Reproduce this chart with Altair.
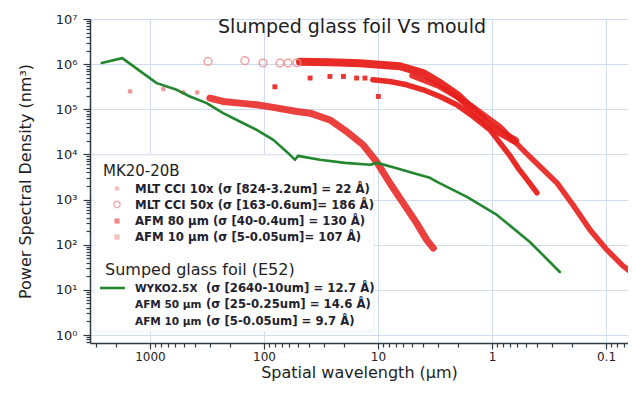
import altair as alt
import pandas as pd

# ---------------- data ----------------
# Sumped glass foil (E52) : WYKO2.5X (green curve)
foil_wl = [2654, 1750, 873, 583, 446, 318, 228, 163, 116, 82.8, 59.2, 53.4, 50.3,
           32.3, 19.5, 11.7, 10.2, 7.1, 4.93, 3.5, 3.03, 2.48, 1.66, 0.904, 0.465, 0.254]
foil_psd = [1.06e6, 1.36e6, 3.8e5, 2.7e5, 1.92e5, 1.37e5, 8.2e4, 5.36e4, 3.5e4, 2.1e4,
            9.8e3, 7.6e3, 9.3e3, 7.6e3, 6.5e3, 5.9e3, 6.5e3, 5.05e3, 3.9e3, 3.03e3,
            2.47e3, 1.91e3, 1.15e3, 458, 115, 24.9]

# MK20-20B : MLT CCI 10x
mlt10_pts_wl = [1496, 764, 511, 385]
mlt10_pts_psd = [2.48e5, 2.8e5, 2.36e5, 2.36e5]
mlt10_wl = [298, 229, 163, 116, 83, 51.6, 39.4, 26.4, 18.8, 13.5, 10.3, 7.85, 6.0,
            4.58, 3.74, 3.27]
mlt10_psd = [1.77e5, 1.49e5, 1.37e5, 1.26e5, 1.1e5, 8.9e4, 8.2e4, 5.8e4, 3.2e4,
             1.63e4, 6.9e3, 2.3e3, 832, 300, 128, 84]

# MK20-20B : MLT CCI 50x
mlt50_pts_wl = [310, 147, 102, 72.4, 61.5, 51.4]
mlt50_pts_psd = [1.15e6, 1.19e6, 1.06e6, 1.06e6, 1.06e6, 1.07e6]
mlt50_wl = [48.3, 26.4, 14.4, 6.41, 4.03, 2.86, 2.03, 1.47, 1.04, 0.628]
mlt50_psd = [1.13e6, 1.10e6, 1.05e6, 8.98e5, 6.35e5, 3.81e5, 2.1e5, 9.8e4, 4.16e4, 2.0e4]

# MK20-20B : AFM 80 um
afm80_pts_wl = [80.2, 39.4, 26.4, 20.1, 15.4, 13.0, 9.93]
afm80_pts_psd = [3.15e5, 4.92e5, 5.34e5, 5.34e5, 4.92e5, 4.92e5, 1.92e5]
afm80_wl = [11.1, 7.85, 5.60, 4.01, 2.86, 2.04, 1.46, 1.04, 0.851, 0.695, 0.592,
            0.483, 0.403]
afm80_psd = [4.51e5, 4.13e5, 3.49e5, 2.7e5, 1.92e5, 1.26e5, 6.9e4, 3.51e4, 1.81e4,
             9.3e3, 5.05e3, 2.6e3, 1.41e3]

# MK20-20B : AFM 10 um
afm10_wl = [5.04, 2.86, 1.56, 0.851, 0.628, 0.465, 0.269, 0.195, 0.138, 0.098,
            0.071, 0.0503]
afm10_psd = [5.53e5, 3.15e5, 1.26e5, 4.09e4, 1.9e4, 8.85e3, 2.34e3, 762, 213,
             76.7, 33.9, 17.5]

title_text = "Slumped glass foil Vs mould"
x_title = "Spatial wavelength (\u00b5m)"
y_title = "Power Spectral Density (nm\u00b3)"
group1 = "MK20-20B"
group1_labels = ["MLT CCI 10x (\u03c3 [824-3.2um] = 22 \u00c5)",
                 "MLT CCI 50x (\u03c3 [163-0.6um]= 186 \u00c5)",
                 "AFM 80 \u00b5m (\u03c3 [40-0.4um] = 130 \u00c5)",
                 "AFM 10 \u00b5m (\u03c3 [5-0.05um]= 107 \u00c5)"]
group2 = "Sumped glass foil (E52)"
group2_names = ["WYKO2.5X", "AFM 50 \u00b5m", "AFM 10 \u00b5m"]
group2_sigma = ["(\u03c3 [2640-10um] = 12.7 \u00c5)",
                "(\u03c3 [25-0.25um] = 14.6 \u00c5)",
                "(\u03c3 [5-0.05um] = 9.7 \u00c5)"]

x_domain = [0.0641, 3358]
y_domain = [0.665, 1e7]
x_ticks = [k * 10.0 ** n for n in range(-2, 4) for k in range(1, 10)
           if x_domain[0] <= k * 10.0 ** n <= x_domain[1]]
y_ticks = [k * 10.0 ** n for n in range(-1, 8) for k in range(1, 10)
           if y_domain[0] <= k * 10.0 ** n <= y_domain[1]]

# ---------------- styling ----------------
RED = "#e8201c"
GREEN = "#23872f"
FONT = "DejaVu Sans"
MAJOR = "abs(log(datum.value)/LN10 - round(log(datum.value)/LN10)) < 1e-6"

x_axis = alt.Axis(values=x_ticks, title=x_title,
                  labelExpr=f"({MAJOR}) ? format(datum.value, '~g') : ''",
                  tickSize={"condition": {"test": MAJOR, "value": 6}, "value": 4},
                  gridOpacity={"condition": {"test": MAJOR, "value": 1}, "value": 0},
                  labelOverlap=False, labelFontSize=12, titleFontSize=16,
                  titlePadding=2, labelPadding=2)
y_axis = alt.Axis(values=y_ticks, title=y_title,
                  labelExpr=f"({MAJOR}) ? '10' + ['\u2070','\u00b9','\u00b2','\u00b3','\u2074','\u2075','\u2076','\u2077'][round(log(datum.value)/LN10)] : ''",
                  tickSize={"condition": {"test": MAJOR, "value": 7}, "value": 4},
                  gridOpacity={"condition": {"test": MAJOR, "value": 1}, "value": 0},
                  labelOverlap=False, labelFontSize=13, titleFontSize=16,
                  titlePadding=22, labelPadding=6)

xs = alt.Scale(type="log", domain=x_domain, reverse=True)
ys = alt.Scale(type="log", domain=y_domain)


def xy(df):
    return dict(x=alt.X("wl:Q", scale=xs, axis=x_axis),
                y=alt.Y("psd:Q", scale=ys, axis=y_axis))


def frame(wl, psd):
    return pd.DataFrame({"wl": wl, "psd": psd})


def line(wl, psd, color, width, opacity=1.0):
    df = frame(wl, psd)
    return alt.Chart(df).mark_line(color=color, strokeWidth=width, opacity=opacity,
                                   strokeCap="round", strokeJoin="round",
                                   clip=True).encode(**xy(df))


def points(wl, psd, shape, color, size, filled=True, opacity=1.0):
    df = frame(wl, psd)
    return alt.Chart(df).mark_point(shape=shape, color=color, size=size, filled=filled,
                                    opacity=opacity, strokeWidth=1.5,
                                    clip=True).encode(**xy(df))


one = pd.DataFrame({"a": [0]})

legend_box = alt.Chart(one).mark_rect(fill="white", stroke="#eaeef4", strokeWidth=1).encode(
    x=alt.value(4), x2=alt.value(284), y=alt.value(136), y2=alt.value(312))

layers = [
    legend_box,
    line(afm10_wl, afm10_psd, RED, 5.5, 0.9),
    line(mlt10_wl, mlt10_psd, RED, 7, 0.85),
    points(mlt10_pts_wl, mlt10_pts_psd, "circle", "#f08080", 24, True, 0.8),
    line(afm80_wl, afm80_psd, RED, 5.5, 0.95),
    points(afm80_pts_wl, afm80_pts_psd, "square", RED, 24, True, 0.9),
    line(mlt50_wl, mlt50_psd, RED, 8, 0.95),
    points(mlt50_pts_wl, mlt50_pts_psd, "circle", "#f08a8a", 60, False, 0.8),
    line(foil_wl, foil_psd, GREEN, 2.6),
]

# title inside plot
layers.append(alt.Chart(pd.DataFrame({"t": [title_text]})).mark_text(
    font=FONT, fontSize=19, color="#1e1e24", align="center", baseline="alphabetic").encode(
    x=alt.value(262), y=alt.value(14), text="t:N"))

# legend group 1
layers.append(alt.Chart(pd.DataFrame({"t": [group1]})).mark_text(
    font=FONT, fontSize=15, color="#1e1e24", align="left", baseline="alphabetic").encode(
    x=alt.value(13), y=alt.value(157), text="t:N"))
g1_base = [173.5, 189.5, 206, 222]
for lab, yb in zip(group1_labels, g1_base):
    layers.append(alt.Chart(pd.DataFrame({"t": [lab]})).mark_text(
        font=FONT, fontSize=11.7, fontWeight="bold", color="#22222e", align="left",
        baseline="alphabetic").encode(x=alt.value(45), y=alt.value(yb), text="t:N"))
leg_marks = [("circle", "#f4a0a0", 22, True), ("circle", "#f09090", 40, False),
             ("square", "#ee5050", 26, True), ("square", "#f4a8a8", 30, True)]
for (shape, col, size, filled), yb in zip(leg_marks, g1_base):
    layers.append(alt.Chart(one).mark_point(shape=shape, color=col, size=size,
                                            filled=filled, strokeWidth=1.5).encode(
        x=alt.value(27), y=alt.value(yb - 4)))

# legend group 2
layers.append(alt.Chart(pd.DataFrame({"t": [group2]})).mark_text(
    font=FONT, fontSize=16, color="#1e1e24", align="left", baseline="alphabetic").encode(
    x=alt.value(15), y=alt.value(256), text="t:N"))
g2_base = [273, 288.5, 306]
for nm, sg, yb in zip(group2_names, group2_sigma, g2_base):
    layers.append(alt.Chart(pd.DataFrame({"t": [nm]})).mark_text(
        font=FONT, fontSize=10.5, fontWeight="bold", color="#22222e", align="left",
        baseline="alphabetic").encode(x=alt.value(45), y=alt.value(yb), text="t:N"))
    layers.append(alt.Chart(pd.DataFrame({"t": [sg]})).mark_text(
        font=FONT, fontSize=11.7, fontWeight="bold", color="#22222e", align="left",
        baseline="alphabetic").encode(x=alt.value(116), y=alt.value(yb), text="t:N"))
layers.append(alt.Chart(one).mark_rule(color=GREEN, strokeWidth=2.6).encode(
    x=alt.value(10), x2=alt.value(35), y=alt.value(269)))

chart = alt.layer(*layers).properties(
    width=538, height=324,
    padding={"left": 82, "top": 11, "right": 0, "bottom": 45},
    autosize=alt.AutoSizeParams(type="none"),
).configure_view(stroke=None).configure_axis(
    domainColor="#2f3b44", domainWidth=1.5, tickColor="#2f3b44", tickWidth=1.2,
    gridColor="#cfdcf0", gridWidth=1, labelFont=FONT, titleFont=FONT,
    labelColor="#222222", titleColor="#1e1e24", titleFontWeight="normal",
)

chart.save("out.html", embed_options={"renderer": "svg", "actions": False})
